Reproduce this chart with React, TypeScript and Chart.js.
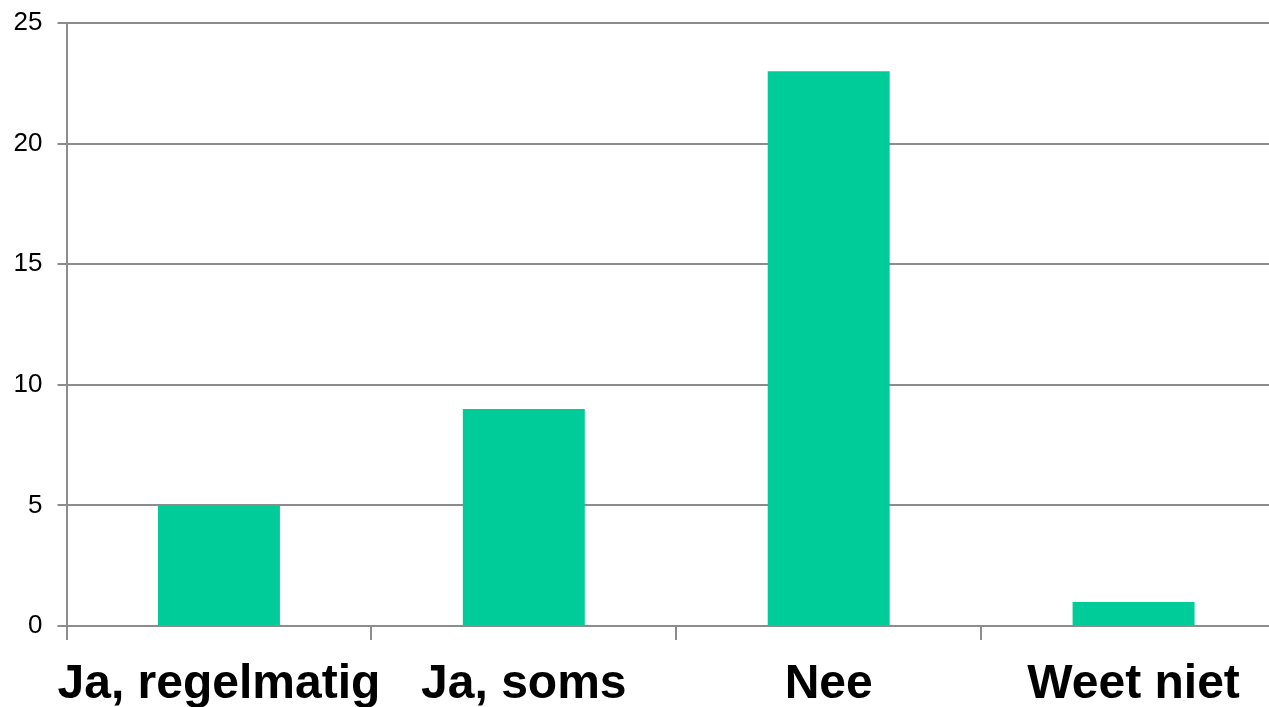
import React, { useEffect, useRef } from "react";
import { Chart, registerables } from "chart.js";

Chart.register(...registerables);

const categories = ["Ja, regelmatig", "Ja, soms", "Nee", "Weet niet"];
const values = [5, 9, 23, 1];
const yTicks = [0, 5, 10, 15, 20, 25];

const GRAY = "#8c8c8c";
const BAR = "#00CC99";

export default function App() {
  const ref = useRef<HTMLCanvasElement>(null);
  useEffect(() => {
    document.body.style.margin = "0";
    document.body.style.overflow = "hidden";
    const chart = new Chart(ref.current as HTMLCanvasElement, {
      type: "bar",
      data: {
        labels: categories,
        datasets: [
          {
            data: values,
            backgroundColor: BAR,
            barPercentage: 0.4,
            categoryPercentage: 1,
          },
        ],
      },
      options: {
        animation: false,
        responsive: false,
        layout: { padding: { top: 23, right: 0, left: 0, bottom: 0 } },
        plugins: { legend: { display: false }, tooltip: { enabled: false } },
        scales: {
          x: {
            offset: true,
            grid: {
              drawOnChartArea: false,
              color: GRAY,
              lineWidth: 2,
              tickLength: 14,
              offset: true,
            },
            border: { color: GRAY, width: 2 },
            ticks: {
              color: "#000",
              font: { family: "'Liberation Sans', Arial, sans-serif", size: 48, weight: "bold" },
              padding: 16,
              maxRotation: 0,
              autoSkip: false,
            },
            afterFit: (s: any) => {
              s.height = 81;
              s.paddingLeft = 0;
              s.paddingRight = 0;
            },
          },
          y: {
            min: 0,
            max: 25,
            grid: { color: GRAY, lineWidth: 2, tickLength: 9 },
            border: { color: GRAY, width: 2 },
            ticks: {
              color: "#000",
              font: { family: "'Liberation Sans', Arial, sans-serif", size: 26 },
              padding: 15,
            },
            afterBuildTicks: (s: any) => {
              s.ticks = yTicks.map((v) => ({ value: v }));
            },
            afterFit: (s: any) => {
              s.width = 66.5;
              s.paddingTop = 0;
              s.paddingBottom = 0;
            },
          },
        },
      },
    });
    return () => chart.destroy();
  }, []);
  return (
    <div
      style={{
        position: "absolute",
        left: 0,
        top: 0,
        width: 1269,
        height: 707,
        overflow: "hidden",
        background: "#fff",
      }}
    >
      <canvas ref={ref} width={1286} height={707} />
    </div>
  );
}
